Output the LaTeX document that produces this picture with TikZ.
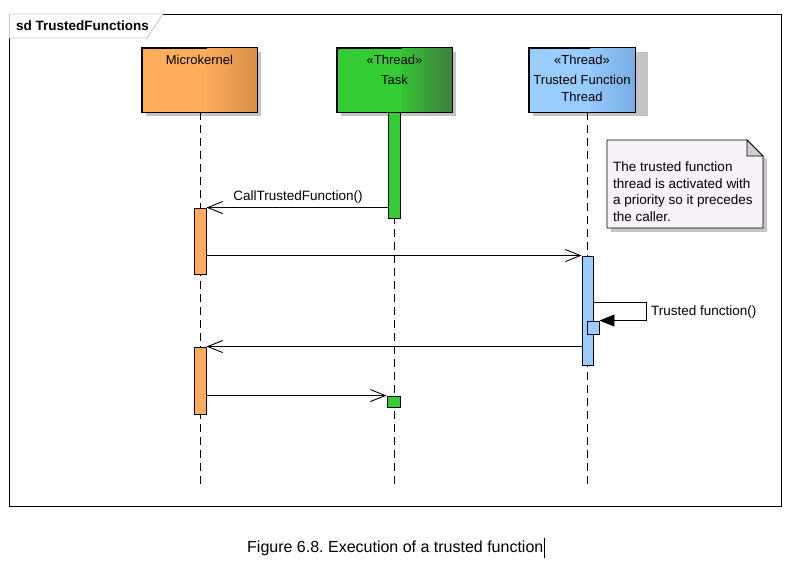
\documentclass[tikz,border=0pt]{standalone}
\usepackage{fontspec}
\setmainfont{Liberation Sans}
\usetikzlibrary{arrows.meta,positioning,calc}
\definecolor{mkA}{HTML}{FFAD5B}
\definecolor{mkB}{HTML}{D98F48}
\definecolor{tkA}{HTML}{33CC33}
\definecolor{tkB}{HTML}{3F7F3F}
\definecolor{tfA}{HTML}{99CCFF}
\definecolor{tfB}{HTML}{78ADE3}
\definecolor{shadowc}{HTML}{C4C4C4}
\definecolor{notec}{HTML}{F7F2F7}
\definecolor{tabc}{HTML}{C8C8C8}
\frenchspacing
\tikzset{
  lbl/.style={font=\fontsize{13.5}{15}\selectfont, inner sep=0pt},
  headlbl/.style={font=\fontsize{13}{15}\selectfont, inner sep=0pt},
  headbox/.style={draw=black, line width=0.9pt, minimum width=115pt, minimum height=64pt, inner sep=0pt},
  actbar/.style={draw=black, line width=0.9pt, minimum width=12pt, inner sep=0pt},
  lifeline/.style={line width=0.9pt, dash pattern=on 8pt off 5pt},
  msg/.style={line width=0.9pt, -{Straight Barb[length=15pt,width=12pt,line width=0.9pt]}},
  selfmsg/.style={line width=0.9pt, -{Triangle[length=15pt,width=12pt]}},
}
\begin{document}
\begin{tikzpicture}[x=1pt,y=-1pt]
\useasboundingbox (0,0) rectangle (800,577);
\fill[white] (0,0) rectangle (800,577);
% frame
\draw[line width=0.9pt] (163,14) -- (781,14) -- (781,506) -- (9.5,506) -- (9.5,38);
\draw[tabc, line width=0.9pt] (9.5,38) -- (9.5,14) -- (163,14) -- (147,38) -- cycle;
\node[lbl, font=\fontsize{13.5}{15}\selectfont\bfseries, anchor=west] (title) at (16,26) {sd TrustedFunctions};

% lifeline heads
\fill[shadowc] (146,52) rectangle (261,116);
\fill[shadowc] (341,52) rectangle (456,116);
\fill[shadowc] (533,52) rectangle (648,116);

\node[headbox, fill=mkA] (mk) at (199.5,80) {};
\shade[left color=mkA, right color=mkB] (mk.north) ++(8,0) rectangle (mk.south east);
\draw[line width=0.9pt] (mk.north west) rectangle (mk.south east);
\node[headlbl] (mkt) at (199.5,60) {Microkernel};

\node[headbox, fill=tkA] (tk) at (394.5,80) {};
\shade[left color=tkA, right color=tkB] (tk.north) ++(8,0) rectangle (tk.south east);
\draw[line width=0.9pt] (tk.north west) rectangle (tk.south east);
\node[headlbl] (tks) at (394.5,60) {«Thread»};
\node[headlbl] (tkt) at (394.5,80) {Task};

\node[headbox, fill=tfA, minimum width=106pt] (tf) at (582,80) {};
\shade[left color=tfA, right color=tfB] (tf.north) ++(8,0) rectangle (tf.south east);
\draw[line width=0.9pt] (tf.north west) rectangle (tf.south east);
\node[headlbl] (tfs) at (582,60) {«Thread»};
\node[headlbl] (tft) at (582,80) {Trusted Function};
\node[headlbl] (tft2) at (582,97) {Thread};

% lifelines
\coordinate (mkend) at (200,488);
\coordinate (tkend) at (394,488);
\coordinate (tfend) at (587.5,488);
\draw[lifeline] (200,112) -- (mkend);
\draw[lifeline] (394,112) -- (tkend);
\draw[lifeline] (587.5,112) -- (tfend);

% note
\fill[shadowc] (611,144) -- (751,144) -- (767,160) -- (767,232) -- (611,232) -- cycle;
\draw[line width=0.9pt, fill=notec] (607,140) -- (747,140) -- (763,156) -- (763,228) -- (607,228) -- cycle;
\draw[line width=0.9pt, fill=shadowc!80] (747,140) -- (747,156) -- (763,156) -- cycle;
\node[lbl, anchor=north west, align=left, font=\fontsize{13.5}{16.5}\selectfont] (note) at (613,162)
  {The trusted function\\thread is activated with\\a priority so it precedes\\the caller.};

% activation bars
\node[actbar, fill=tkA, minimum height=106pt] (tk1) at (394,165) {};
\node[actbar, fill=mkA, minimum height=66pt] (mk1) at (200,241) {};
\node[actbar, fill=tfA, minimum height=109pt, minimum width=11pt] (tf1) at (587.5,310.5) {};
\node[actbar, fill=tfA, minimum height=13pt] (tf2) at (593,327.5) {};
\node[actbar, fill=mkA, minimum height=67pt] (mk2) at (200,380.5) {};
\node[actbar, fill=tkA, minimum height=11pt, minimum width=13pt] (tk2) at (393.5,401.5) {};

% messages
\draw[msg] (tk1.west |- mk1.north) -- (mk1.north east);
\node[lbl] (m1) at (298,197.5) {CallTrustedFunction()};
\draw[msg] (mk1.east |- tf1.north) -- (tf1.north west);
\coordinate (sc) at (646,302);
\draw[selfmsg] (tf1.east |- sc) -- (sc) |- (tf2.north east);
\node[lbl, anchor=west] (m3) at (651,312.5) {Trusted function()};
\draw[msg] (tf1.west |- mk2.north) -- (mk2.north east);
\draw[msg] (mk2.east |- tk2.north) -- (tk2.north west);

% caption
\node[lbl, font=\fontsize{16}{19}\selectfont, anchor=west] (cap) at (247,548) {Figure 6.8. Execution of a trusted function};
\draw[line width=0.9pt] (cap.east) ++(1,-10) -- ++(0,20);
\end{tikzpicture}
\end{document}
